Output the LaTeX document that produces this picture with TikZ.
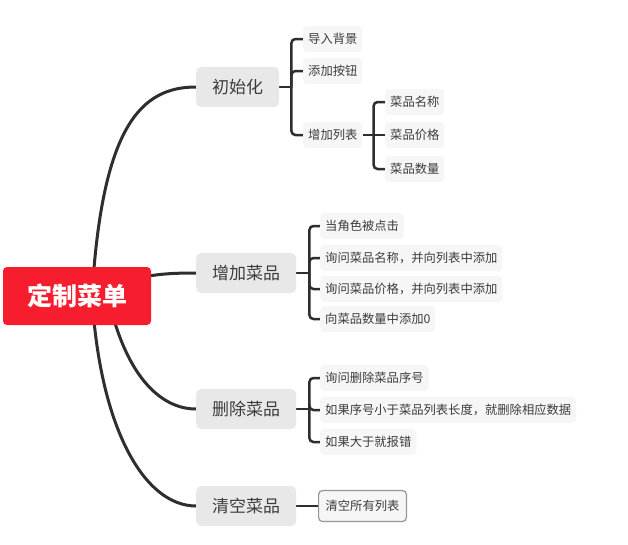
\documentclass[tikz,border=0pt]{standalone}
\usepackage{fontspec}
\setmainfont{Noto Sans CJK SC}
\usetikzlibrary{backgrounds}
\definecolor{rootred}{RGB}{246,30,46}
\definecolor{branchgray}{RGB}{232,232,232}
\definecolor{leafgray}{RGB}{246,246,246}
\definecolor{linegray}{RGB}{46,46,46}
\definecolor{textgray}{RGB}{60,60,60}
\definecolor{framegray}{RGB}{150,150,150}

\begin{document}
\begin{tikzpicture}[x=1pt, y=-1pt,
        rootbox/.style={fill=rootred, text=white, rounded corners=4pt, minimum width=148pt, minimum height=58pt, font=\fontsize{25}{28}\selectfont\bfseries},
        branchbox/.style={anchor=west, fill=branchgray, text=textgray, rounded corners=5pt, inner xsep=16pt, minimum height=40pt, font=\fontsize{17}{20}\selectfont},
        leafbox/.style={anchor=west, fill=leafgray, text=textgray, rounded corners=4pt, inner xsep=5pt, inner ysep=0pt, minimum height=26pt, font=\fontsize{12.3}{14}\selectfont},
        mainline/.style={draw=linegray, line width=3pt},
        subline/.style={draw=linegray, line width=2.5pt, rounded corners=4pt}]
    \useasboundingbox (0,0) rectangle (628,544);

    % root
    \node[rootbox] (menu) at (77,296) {定制菜单};

    % branches
    \node[branchbox] (init) at (196,87) {初始化};
    \node[branchbox] (add) at (196,273) {增加菜品};
    \node[branchbox] (del) at (196,409) {删除菜品};
    \node[branchbox] (clear) at (196,506) {清空菜品};

    % init
    \node[leafbox] (bg) at (303,39) {导入背景};
    \node[leafbox] (btn) at (303,71) {添加按钮};
    \node[leafbox] (lists) at (303,135) {增加列表};
    \node[leafbox] (lname) at (385,102) {菜品名称};
    \node[leafbox] (lprice) at (385,135) {菜品价格};
    \node[leafbox] (lcount) at (385,169) {菜品数量};

    % add
    \node[leafbox] (click) at (320,226) {当角色被点击};
    \node[leafbox] (askname) at (320,258) {询问菜品名称，并向列表中添加};
    \node[leafbox] (askprice) at (320,289) {询问菜品价格，并向列表中添加};
    \node[leafbox] (zero) at (320,319) {向菜品数量中添加0};

    % delete
    \node[leafbox] (asknum) at (320,378) {询问删除菜品序号};
    \node[leafbox] (remove) at (320,410) {如果序号小于菜品列表长度，就删除相应数据};
    \node[leafbox] (error) at (320,442) {如果大于就报错};

    % clear
    \node[leafbox, draw=framegray, line width=1.2pt, inner xsep=7pt, minimum height=31pt] (wipe) at (318,506) {清空所有列表};

    \begin{scope}[on background layer]
        \path (menu.center) ++(15,0) coordinate (up1) ++(8,0) coordinate (mid1) ++(8,0) coordinate (low1);
        \draw[mainline] (up1) .. controls +(10,-170) and +(-55,0) .. (init.west);
        \draw[mainline] (mid1) .. controls +(30,-21) and +(-36,0) .. (add.west);
        \draw[mainline] (menu.center) ++(31,0) .. controls +(17,79) and +(-36,0) .. (del.west);
        \draw[mainline] (up1) .. controls +(8,134) and +(-51,0) .. (clear.west);

        \path (init.east) ++(12,0) coordinate (initfork);
        \draw[subline] (init.east) -- (initfork);
        \draw[subline] (initfork) |- (bg.west);
        \draw[subline] (initfork) |- (btn.west);
        \draw[subline] (initfork) |- (lists.west);

        \path (lists.east) ++(11,0) coordinate (listfork);
        \draw[subline] (lists.east) -- (listfork);
        \draw[subline] (listfork) |- (lname.west);
        \draw[subline] (listfork) -- (lprice.west);
        \draw[subline] (listfork) |- (lcount.west);

        \path (add.east) ++(13,0) coordinate (addfork);
        \draw[subline] (add.east) -- (addfork);
        \draw[subline] (addfork) |- (click.west);
        \draw[subline] (addfork) |- (askname.west);
        \draw[subline] (addfork) |- (askprice.west);
        \draw[subline] (addfork) |- (zero.west);

        \path (del.east) ++(13,0) coordinate (delfork);
        \draw[subline] (del.east) -- (delfork);
        \draw[subline] (delfork) |- (asknum.west);
        \draw[subline] (delfork) |- (remove.west);
        \draw[subline] (delfork) |- (error.west);

        \draw[subline] (clear.east) -- (wipe.west);
    \end{scope}
\end{tikzpicture}
\end{document}
